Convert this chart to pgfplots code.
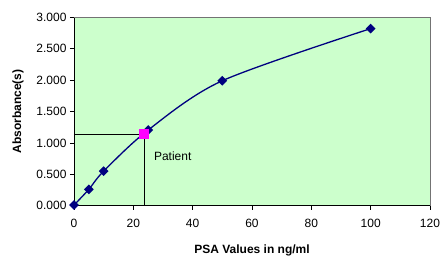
\documentclass[border=0pt]{standalone}
\usepackage{pgfplots}
\pgfplotsset{compat=1.18}
\usepackage{fontspec}
\setmainfont{Liberation Sans}
\definecolor{bgg}{HTML}{CCFFCC}
\definecolor{navy}{HTML}{000080}
\definecolor{mag}{HTML}{FF00FF}
\begin{document}
\begin{tikzpicture}
\useasboundingbox (-74bp,-51.3bp) rectangle (367bp,205.7bp);
\begin{axis}[
  at={(0,0)}, anchor=south west,
  scale only axis, width=356bp, height=188.4bp,
  xmin=0, xmax=120, ymin=0, ymax=3,
  xtick={0,20,...,120}, ytick={0,0.5,...,3},
  axis x line*=bottom, axis y line*=left,
  axis line style={black, line width=0.8bp, -},
  tick style={black, line width=0.8bp},
  tick align=outside, major tick length=4bp,
  axis background/.style={fill=bgg},
  font=\fontsize{12bp}{14bp}\selectfont,
  /pgf/number format/assume math mode=true,
  yticklabel style={/pgf/number format/.cd, fixed, fixed zerofill, precision=3},
  xticklabel style={yshift=-6bp},
  xlabel={\bfseries PSA Values in ng/ml},
  ylabel={\bfseries Absorbance(s)},
  xlabel style={at={(axis description cs:0.5,-0.238)}, anchor=center},
  ylabel style={at={(axis description cs:-0.157,0.5)}, anchor=center},
  clip=false,
]
\draw[gray!90!black, line width=0.8bp] (rel axis cs:0,1) -- (rel axis cs:1,1) -- (rel axis cs:1,0);
\addplot[black, line width=1bp] coordinates {(0,1.14) (23.6,1.14) (23.6,0)};
\addplot[navy, line width=1.3bp, smooth, tension=0.5, mark=square*, mark size=2.8bp,
  mark options={fill=navy, draw=navy, rotate=45}]
  coordinates {(0,0.01) (5,0.26) (10,0.55) (25,1.205) (50,1.99) (100,2.82)};
\addplot[only marks, mark=square*, mark size=4.5bp, mark options={fill=mag, draw=mag}]
  coordinates {(23.6,1.14)};
\node[anchor=west, font=\fontsize{12bp}{14bp}\selectfont] at (axis cs:25.8,0.79) {Patient};
\end{axis}
\end{tikzpicture}
\end{document}
